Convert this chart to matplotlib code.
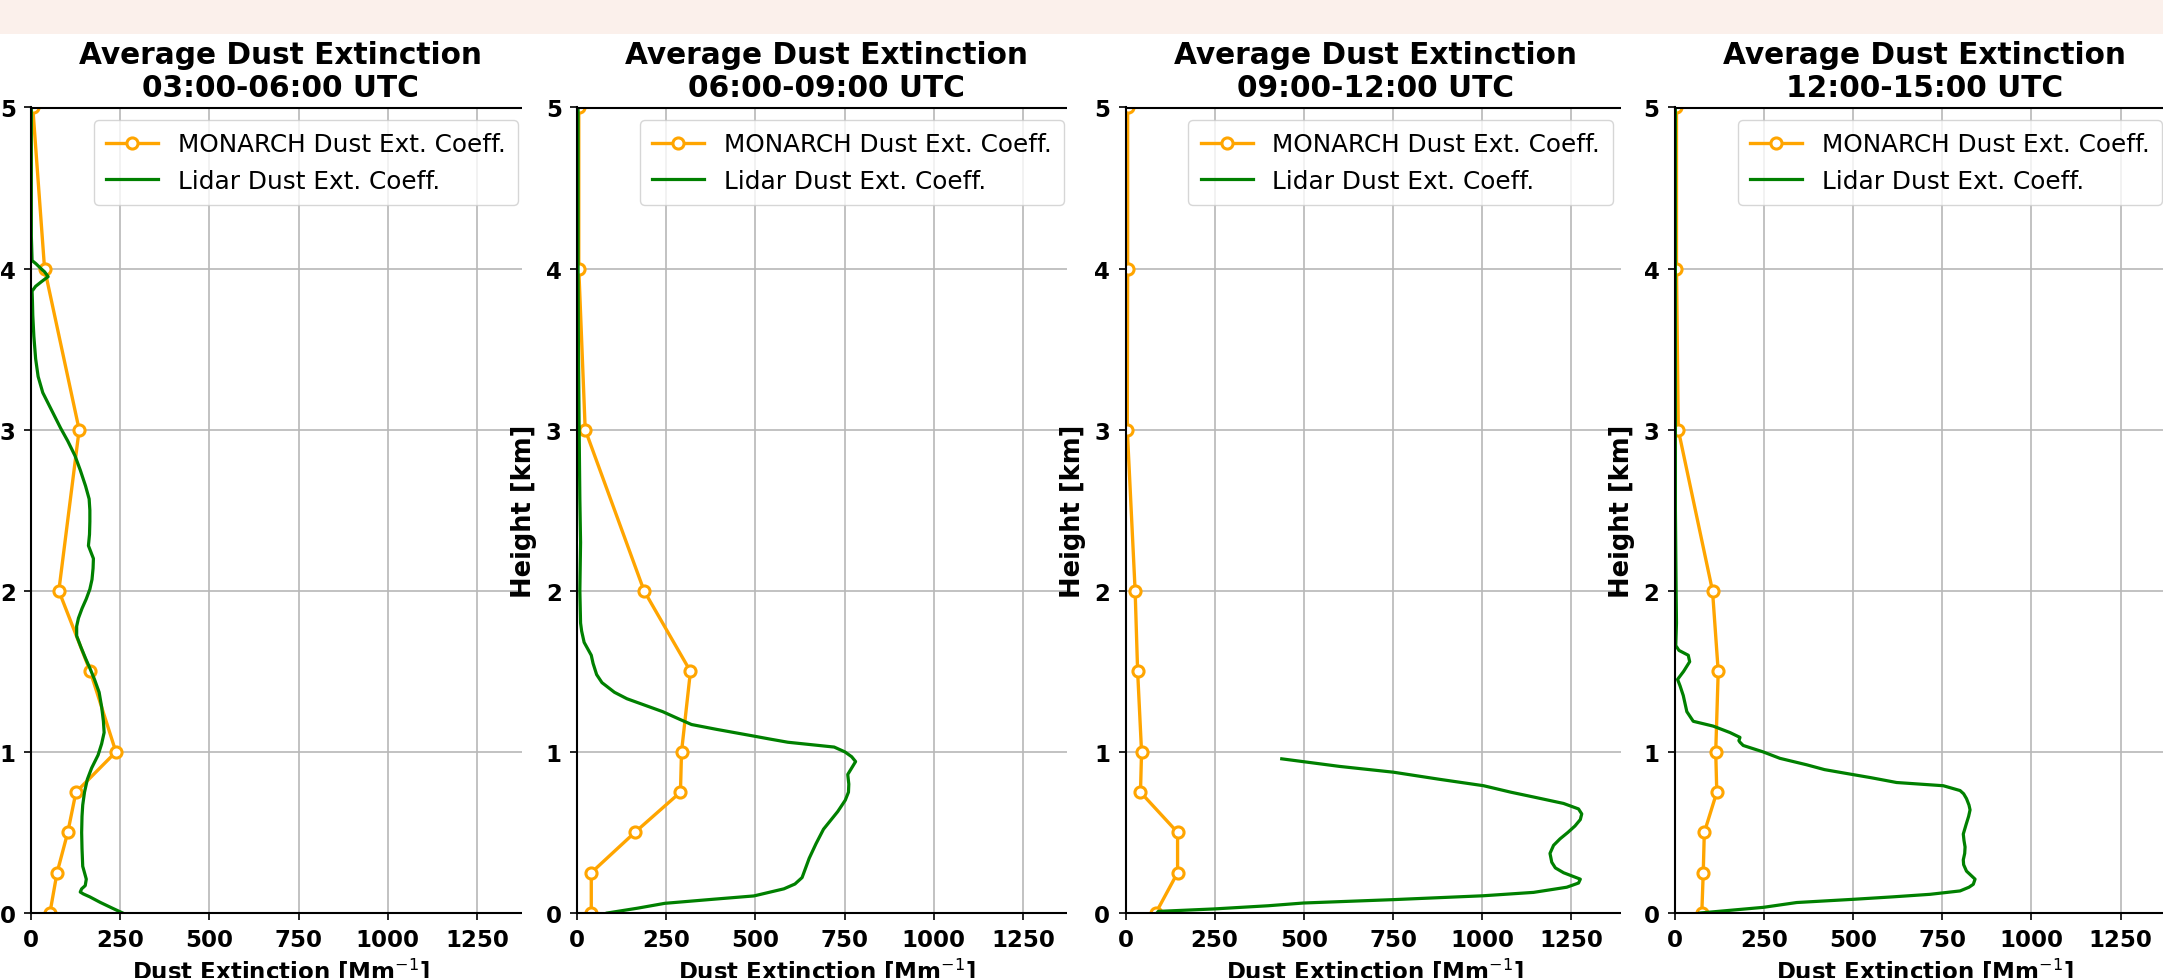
import matplotlib
matplotlib.use("Agg")
import matplotlib.pyplot as plt
from matplotlib.patches import Rectangle
import numpy as np

# ---------------- data ----------------
titles = ["Average Dust Extinction\n03:00-06:00 UTC",
          "Average Dust Extinction\n06:00-09:00 UTC",
          "Average Dust Extinction\n09:00-12:00 UTC",
          "Average Dust Extinction\n12:00-15:00 UTC"]

xticks = [0, 250, 500, 750, 1000, 1250]
yticks = [0, 1, 2, 3, 4, 5]

monarch_h = [0.0, 0.25, 0.5, 0.75, 1.0, 1.5, 2.0, 3.0, 4.0, 5.0]
monarch_1 = [53, 73, 103, 126, 238, 166, 78, 135, 38, 5]
monarch_2 = [40, 40, 162, 290, 293, 318, 188, 23, 5, 5]
monarch_3 = [85, 146, 146, 42, 45, 34, 27, 5, 6, 6]
monarch_4 = [76, 80, 83, 118, 115, 122, 106, 10, 5, 5]

lidar_1_h = [0.0, 0.03, 0.066, 0.10, 0.118, 0.13, 0.15, 0.17, 0.21, 0.29, 0.40, 0.50,
             0.60, 0.67, 0.75, 0.83, 0.90, 0.98, 1.05, 1.12, 1.19, 1.28, 1.37, 1.45,
             1.52, 1.58, 1.65, 1.72, 1.78, 1.83, 1.89, 1.95, 2.01, 2.07, 2.14, 2.20,
             2.28, 2.35, 2.43, 2.50, 2.57, 2.65, 2.75, 2.84, 2.93, 3.01, 3.12, 3.23,
             3.33, 3.44, 3.58, 3.71, 3.80, 3.86, 3.89, 3.92, 3.95, 3.98, 4.00, 4.03,
             4.05, 4.2, 4.5, 5.0]
lidar_1_x = [257, 228, 194, 165, 147, 138, 142, 152, 155, 145, 143, 142,
             143, 145, 150, 158, 170, 188, 198, 205, 203, 198, 191, 178,
             165, 153, 140, 128, 128, 133, 143, 155, 165, 171, 174, 175,
             161, 164, 165, 165, 163, 153, 138, 123, 103, 83, 58, 33,
             20, 13, 8, 5, 4, 3, 13, 30, 48, 38, 28, 14,
             3, 1, 1, 1]

lidar_2_h = [0.0, 0.03, 0.06, 0.085, 0.106, 0.15, 0.18, 0.22, 0.28, 0.34, 0.43, 0.52,
             0.63, 0.70, 0.75, 0.80, 0.86, 0.90, 0.94, 0.97, 1.0, 1.03, 1.06, 1.08,
             1.10, 1.14, 1.17, 1.21, 1.25, 1.29, 1.33, 1.37, 1.43, 1.48, 1.55, 1.60,
             1.68, 1.75, 1.80, 2.0, 2.3, 2.57, 3.0, 3.5, 4.0, 5.0]
lidar_2_x = [85, 170, 246, 380, 496, 580, 611, 631, 641, 651, 670, 691,
             731, 752, 761, 762, 759, 770, 781, 770, 751, 721, 591, 540,
             491, 391, 321, 280, 240, 190, 140, 105, 70, 55, 45, 40,
             20, 13, 10, 8, 10, 8, 6, 4, 3, 3]

lidar_3_h = [0.0, 0.01, 0.025, 0.045, 0.062, 0.083, 0.107, 0.128, 0.16, 0.186, 0.21,
             0.25, 0.28, 0.315, 0.37, 0.42, 0.46, 0.50, 0.54, 0.58, 0.615, 0.646,
             0.68, 0.72, 0.75, 0.79, 0.83, 0.874, 0.91, 0.957]
lidar_3_x = [88, 92, 246, 400, 499, 751, 1003, 1144, 1237, 1270, 1275,
             1228, 1205, 1195, 1190, 1200, 1218, 1240, 1260, 1275, 1279, 1270,
             1228, 1144, 1080, 1004, 880, 751, 600, 438]

lidar_4_h = [0.0, 0.035, 0.065, 0.085, 0.10, 0.116, 0.137, 0.16, 0.178, 0.21, 0.235,
             0.26, 0.30, 0.33, 0.37, 0.41, 0.45, 0.49, 0.55, 0.60, 0.64, 0.67,
             0.71, 0.74, 0.76, 0.79, 0.81, 0.84, 0.866, 0.89, 0.92, 0.96, 1.0,
             1.04, 1.06, 1.07, 1.09, 1.12, 1.16, 1.19, 1.25, 1.35, 1.41, 1.45,
             1.50, 1.56, 1.60, 1.63, 1.66, 1.8, 2.0, 2.5, 3.0, 4.0, 5.0]
lidar_4_x = [71, 248, 342, 501, 610, 716, 800, 825, 837, 842, 830,
             818, 810, 809, 813, 814, 811, 809, 817, 824, 828, 825,
             818, 810, 800, 753, 622, 550, 482, 420, 370, 295, 248,
             192, 183, 180, 183, 155, 108, 52, 34, 24, 15, 8,
             25, 42, 38, 12, 3, 5, 4, 2, 2, 2, 2]

monarch = [monarch_1, monarch_2, monarch_3, monarch_4]
lidar = [(lidar_1_x, lidar_1_h), (lidar_2_x, lidar_2_h),
         (lidar_3_x, lidar_3_h), (lidar_4_x, lidar_4_h)]

# ---------------- layout ----------------
W, H = 2163, 979
fig = plt.figure(figsize=(W / 100, H / 100), dpi=100)

band_h = 35
fig.add_artist(Rectangle((0, 1 - band_h / H), 1, band_h / H, transform=fig.transFigure,
                         facecolor='#fbf0eb', edgecolor='none', zorder=0))

lefts_px = [31, 577, 1125.5, 1674.7]
cuts_px = [522, 1067, 1621]
ax_w_px = 499.4
ax_bottom_px = 914
ax_top_px = 108.5

for i in range(4):
    ax = fig.add_axes([lefts_px[i] / W, (H - ax_bottom_px) / H, ax_w_px / W,
                       (ax_bottom_px - ax_top_px) / H])
    ax.set_zorder(2 * i + 1)
    ax.plot(monarch[i], monarch_h, '-o', color='orange', lw=2.4, ms=8, mew=2.2,
            mfc='white', mec='orange', label='MONARCH Dust Ext. Coeff.')
    lx, lh = lidar[i]
    ax.plot(lx, lh, color='green', lw=2.3, label='Lidar Dust Ext. Coeff.')
    ax.set_xlim(0, 1400)
    ax.set_ylim(0, 5)
    ax.set_xticks(xticks)
    ax.set_xticklabels([str(t) for t in xticks], fontsize=16.5, fontweight='bold')
    ax.set_yticks(yticks)
    ax.set_yticklabels([str(t) for t in yticks], fontsize=16.5, fontweight='bold')
    ax.tick_params(axis='both', length=5, width=1.2, pad=6)
    ax.grid(True, color='#b8b8b8', lw=1.2)
    for s in ['left', 'bottom', 'top']:
        ax.spines[s].set_linewidth(1.5)
    ax.spines['right'].set_visible(False)
    ax.set_title(titles[i], fontsize=21.3, fontweight='bold', pad=8)
    ax.set_xlabel('Dust Extinction [Mm$^{-1}$]', fontsize=16.5, fontweight='bold', labelpad=3)
    ax.set_ylabel('Height [km]', fontsize=18.5, fontweight='bold', labelpad=6)
    ax.legend(loc='upper right', fontsize=17.8, handlelength=2.1, borderpad=0.5)

    if i < 3:
        x0 = cuts_px[i]
        fig.add_artist(Rectangle((x0 / W, 0), (lefts_px[i + 1] - 2 - x0) / W,
                                 (H - band_h) / H, transform=fig.transFigure,
                                 facecolor='white', edgecolor='none', zorder=2 * i + 2))

fig.savefig('out.png', dpi=100, facecolor='white')
